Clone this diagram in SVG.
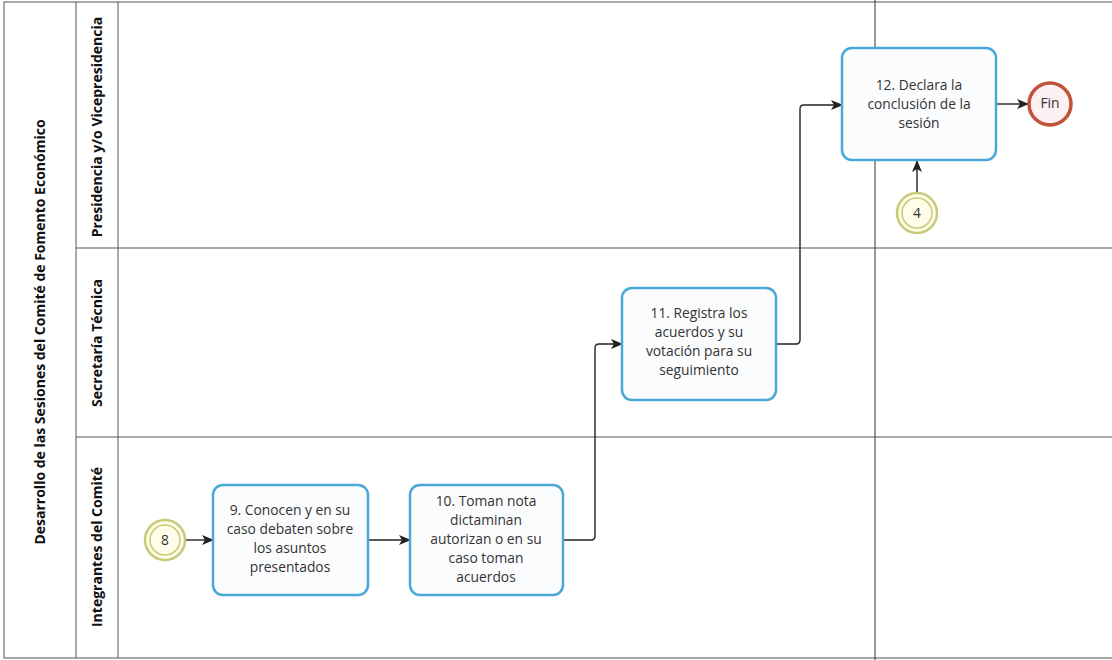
<svg xmlns="http://www.w3.org/2000/svg" width="1112" height="660" viewBox="0 0 1112 660">
<style>
.lane{fill:none;stroke:#555;stroke-width:1}
.lbl{font-family:"Open Sans","Liberation Sans",sans-serif;font-weight:bold;font-size:14px;fill:#111;text-anchor:middle}
.task{fill:#fbfcfd;stroke:#4aa8d8;stroke-width:2.5}
.tt{font-family:"Open Sans","Liberation Sans",sans-serif;font-size:13.8px;fill:#333;text-anchor:middle}
.conn{fill:none;stroke:#222;stroke-width:1.4}
.evo{fill:#fdfde8;stroke:#c9c97a;stroke-width:2.5}
.evi{fill:none;stroke:#c9c97a;stroke-width:1.5}
</style>
<defs>
<marker id="arr" viewBox="0 0 12 10" refX="11" refY="5" markerWidth="12" markerHeight="10" markerUnits="userSpaceOnUse" orient="auto">
<path d="M0,0 L12,5 L0,10 L3,5 Z" fill="#222"/>
</marker>
</defs>
<rect width="1112" height="660" fill="#ffffff"/>
<g id="pool">
<rect x="4" y="2" width="1110" height="656" class="lane"/>
<line x1="76" y1="2" x2="76" y2="658" class="lane"/>
<line x1="118" y1="2" x2="118" y2="658" class="lane"/>
<line x1="76" y1="248" x2="1112" y2="248" class="lane"/>
<line x1="76" y1="437" x2="1112" y2="437" class="lane"/>
<line x1="875" y1="0" x2="875" y2="660" stroke="#333" stroke-width="1"/>
<text class="lbl" font-size="15" transform="translate(45,332) rotate(-90)">Desarrollo de las Sesiones del Comité de Fomento Económico</text>
<text class="lbl" transform="translate(102,127) rotate(-90)">Presidencia y/o Vicepresidencia</text>
<text class="lbl" transform="translate(102,343) rotate(-90)">Secretaría Técnica</text>
<text class="lbl" transform="translate(102,547) rotate(-90)">Integrantes del Comité</text>
</g>
<g id="connectors">
<path class="conn" d="M186,540 L213,540" marker-end="url(#arr)"/>
<path class="conn" d="M368,540 L410,540" marker-end="url(#arr)"/>
<path class="conn" d="M563,540 L591,540 Q595,540 595,536 L595,348 Q595,344 599,344 L622,344" marker-end="url(#arr)"/>
<path class="conn" d="M776,344 L796,344 Q800,344 800,340 L800,109 Q800,105 804,105 L842,105" marker-end="url(#arr)"/>
<path class="conn" d="M996,104 L1028,104" marker-end="url(#arr)"/>
<path class="conn" d="M917,193 L917,161" marker-end="url(#arr)"/>
</g>
<g id="start8">
<circle cx="165" cy="540" r="20" class="evo"/>
<circle cx="165" cy="540" r="15" class="evi"/>
<text class="tt" x="165" y="545" font-size="12">8</text>
</g>
<g id="task9">
<rect x="213" y="485" width="155" height="110" rx="10" class="task"/>
<text class="tt"><tspan x="290" y="515">9. Conocen y en su</tspan><tspan x="290" y="534">caso debaten sobre</tspan><tspan x="290" y="553">los asuntos</tspan><tspan x="290" y="572">presentados</tspan></text>
</g>
<g id="task10">
<rect x="410" y="485" width="153" height="110" rx="10" class="task"/>
<text class="tt"><tspan x="486" y="506">10. Toman nota</tspan><tspan x="486" y="525">dictaminan</tspan><tspan x="486" y="544">autorizan o en su</tspan><tspan x="486" y="563">caso toman</tspan><tspan x="486" y="582">acuerdos</tspan></text>
</g>
<g id="task11">
<rect x="622" y="288" width="154" height="112" rx="10" class="task"/>
<text class="tt"><tspan x="699" y="318">11. Registra los</tspan><tspan x="699" y="337">acuerdos y su</tspan><tspan x="699" y="356">votación para su</tspan><tspan x="699" y="375">seguimiento</tspan></text>
</g>
<g id="task12">
<rect x="842" y="48" width="154" height="112" rx="10" class="task"/>
<text class="tt"><tspan x="919" y="90">12. Declara la</tspan><tspan x="919" y="109">conclusión de la</tspan><tspan x="919" y="128">sesión</tspan></text>
</g>
<g id="fin">
<circle cx="1050" cy="104" r="21" fill="#fdf0f2" stroke="#c0533a" stroke-width="3.5"/>
<text class="tt" x="1050" y="108" font-size="12">Fin</text>
</g>
<g id="event4">
<circle cx="917" cy="213" r="20" class="evo"/>
<circle cx="917" cy="213" r="15" class="evi"/>
<text class="tt" x="917" y="218" font-size="12">4</text>
</g>
</svg>
